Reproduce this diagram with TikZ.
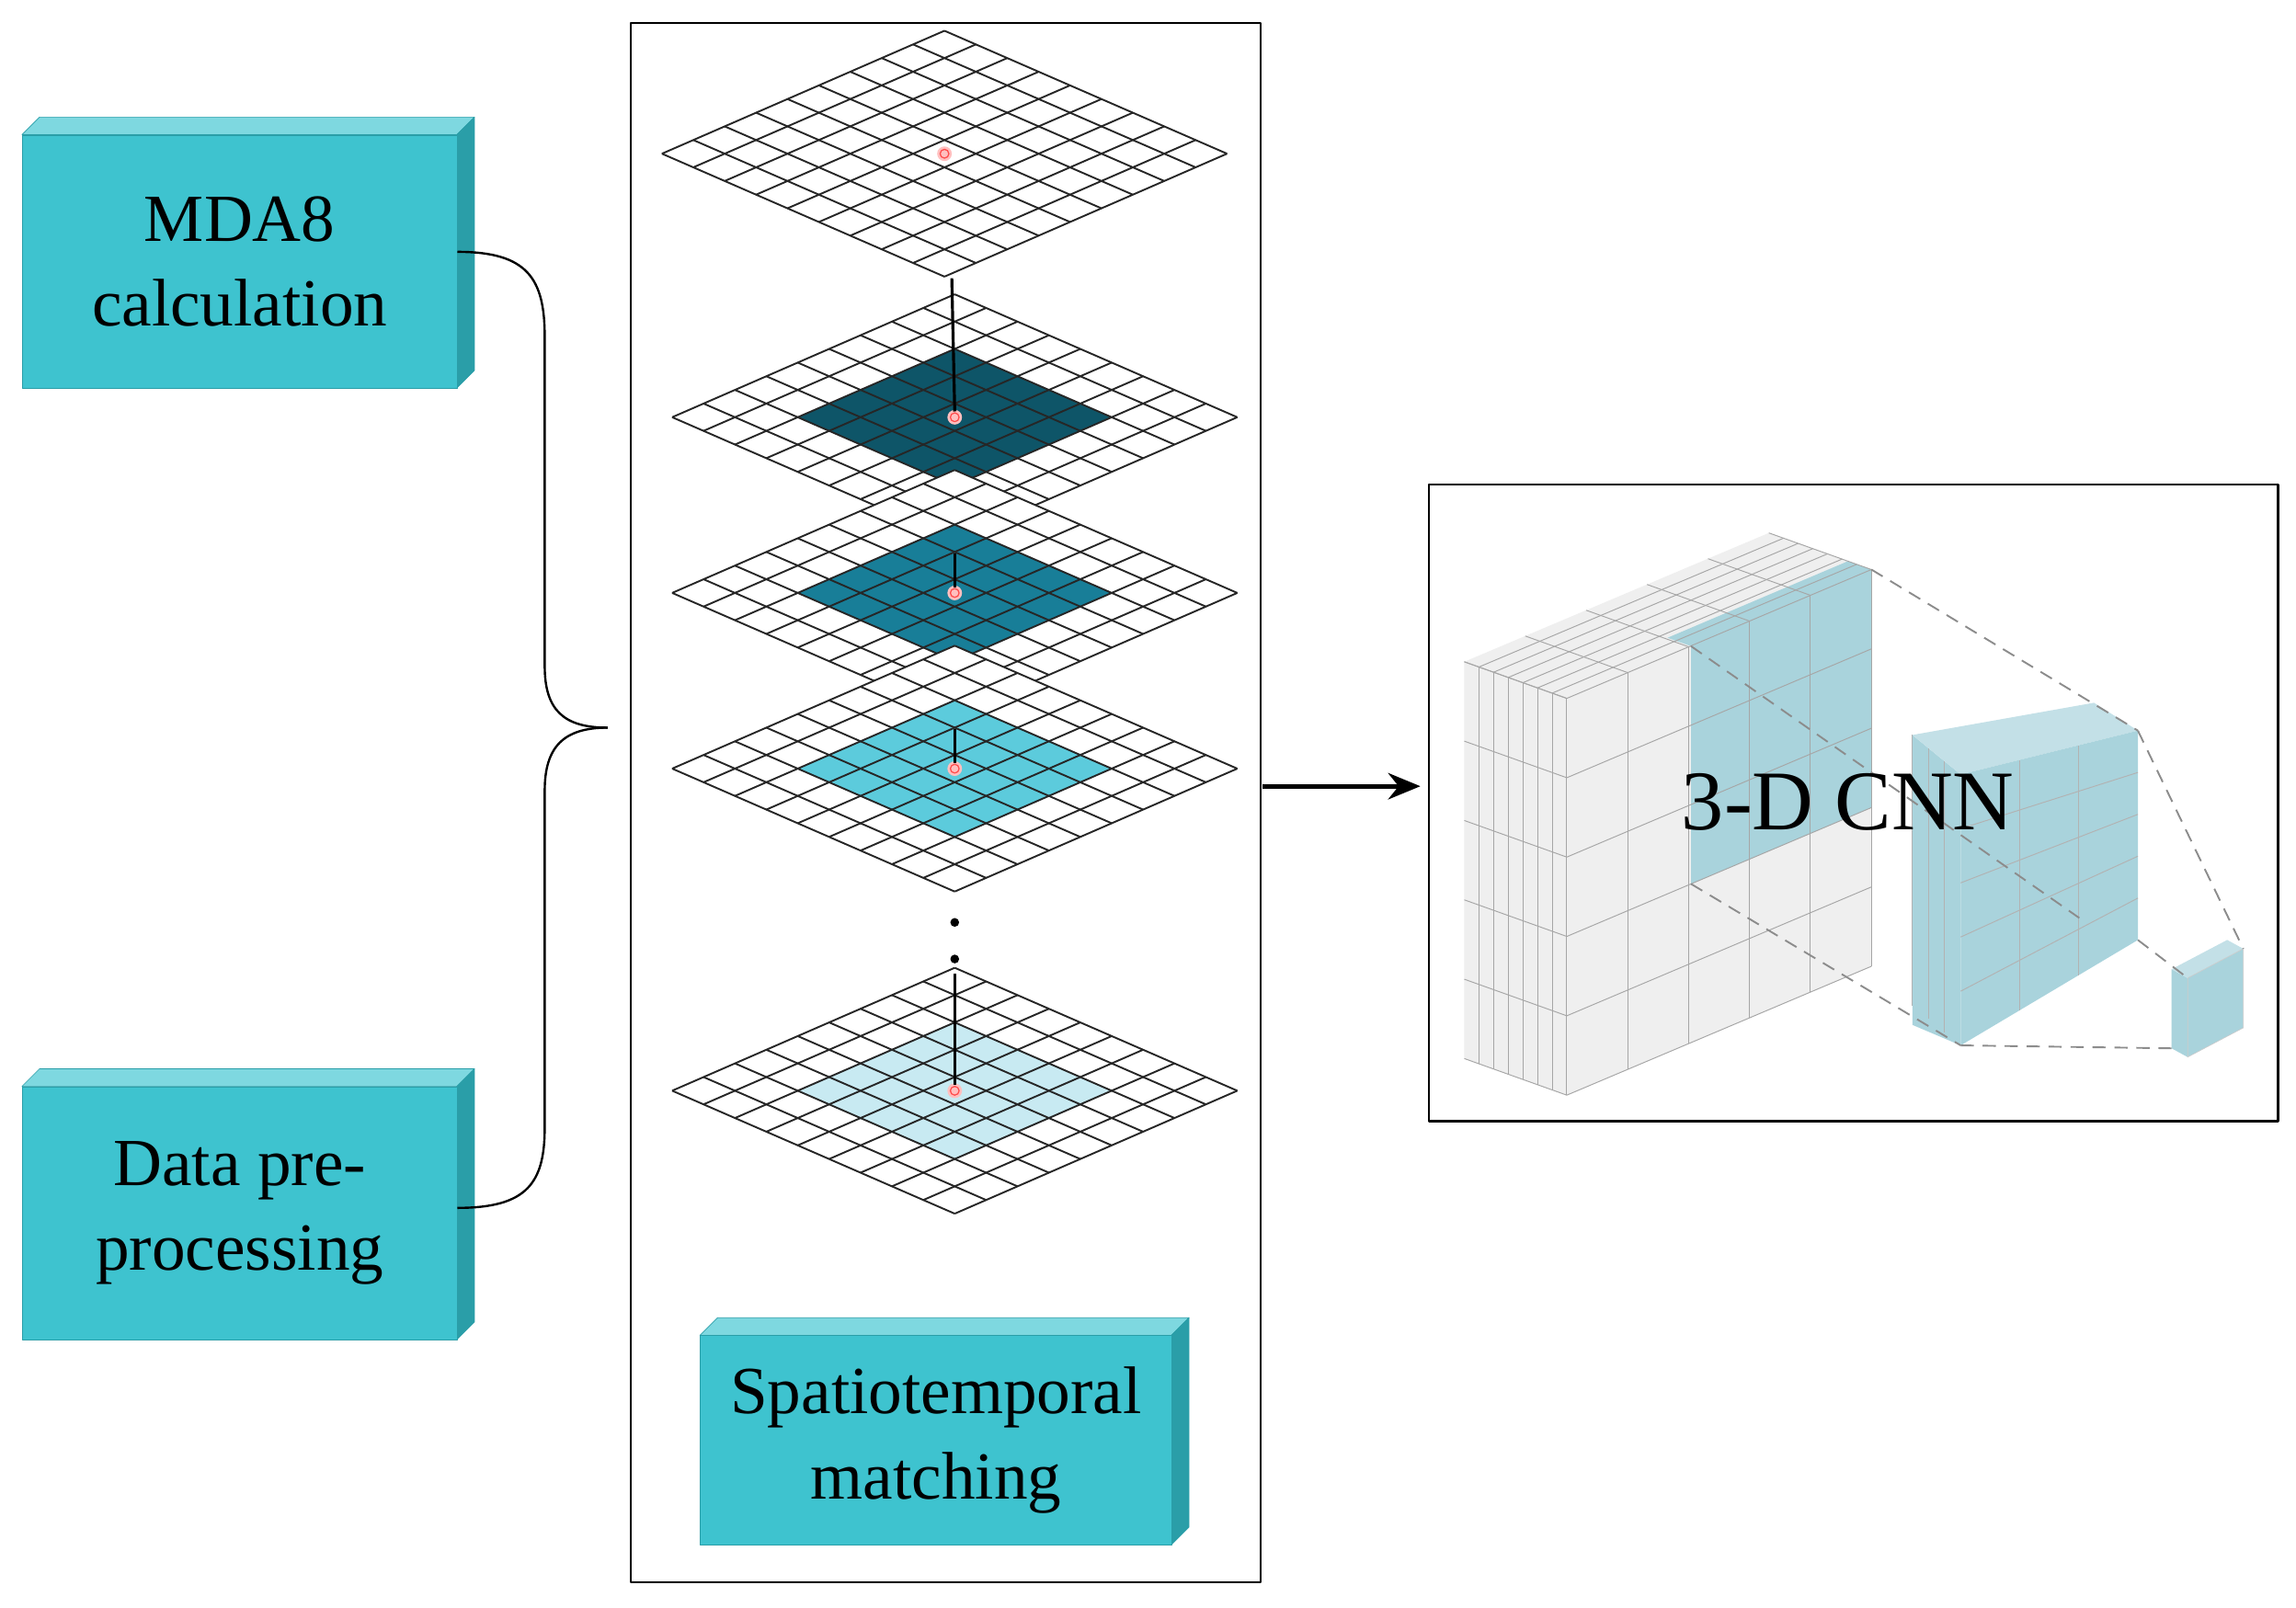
\documentclass[tikz,border=0pt]{standalone}
\usepackage{fontspec}
\setmainfont{Liberation Serif}
\usetikzlibrary{arrows.meta}
\definecolor{boxc}{HTML}{3EC3CF}
\definecolor{boxs}{HTML}{2A9EA8}
\definecolor{boxt}{HTML}{7ED8E0}
\definecolor{g2}{HTML}{0E5568}
\definecolor{g3}{HTML}{187E98}
\definecolor{g4}{HTML}{5CCBDC}
\definecolor{g5}{HTML}{C8EAF2}
\definecolor{cnnb}{HTML}{A9D3DC}
\definecolor{cnng}{HTML}{EFEFEF}
\newcommand{\gp}[4]{({#1+21.44*(#3-#4)},{#2-84+9.33*(#3+#4)})}
\newcommand{\mygrid}[3]{%
\fill[white] \gp{#1}{#2}{0}{0} -- \gp{#1}{#2}{9}{0} -- \gp{#1}{#2}{9}{9} -- \gp{#1}{#2}{0}{9} -- cycle;
\fill[#3] \gp{#1}{#2}{2}{2} -- \gp{#1}{#2}{7}{2} -- \gp{#1}{#2}{7}{7} -- \gp{#1}{#2}{2}{7} -- cycle;
\foreach \t in {0,...,9} {\draw[line width=1.2pt,black!85] \gp{#1}{#2}{\t}{0} -- \gp{#1}{#2}{\t}{9}; \draw[line width=1.2pt,black!85] \gp{#1}{#2}{0}{\t} -- \gp{#1}{#2}{9}{\t};}
\fill[red!25] (#1,#2) circle[radius=5pt];
\draw[red!70,line width=0.8pt] (#1,#2) circle[radius=3pt];}
\newcommand{\mybox}[5]{% name, x1,y1,x2,y2
\fill[boxt,draw=boxs] (#2,#3) -- (#2+12,#3-12) -- (#4+12,#3-12) -- (#4,#3) -- cycle;
\fill[boxs,draw=boxs] (#4,#3) -- (#4+12,#3-12) -- (#4+12,#5-12) -- (#4,#5) -- cycle;
\node[fill=boxc,draw=boxs,minimum width=#4-#2,minimum height=#5-#3,anchor=north west,inner sep=0pt] (#1) at (#2,#3) {};}
\tikzset{lab/.style={font=\fontsize{46}{58}\selectfont,align=center}}
\begin{document}
\begin{tikzpicture}[x=1pt,y=-1pt,line join=round]
\useasboundingbox (0,0) rectangle (1568,1098);
\fill[white] (0,0) rectangle (1568,1098);
% main frame
\node[draw,line width=1.5pt,minimum width=430,minimum height=1065,anchor=north west,inner sep=0pt] (frame) at (430,15) {};
% left boxes
\mybox{mda}{15}{92}{312}{265}
\node[lab] at (mda) {MDA8\\calculation};
\mybox{dat}{15}{742}{312}{915}
\node[lab] at (dat) {Data pre-\\processing};
\mybox{spt}{478}{912}{800}{1055}
\node[lab] at (spt) {Spatiotemporal\\matching};
% brace
\coordinate (tip) at (415,497);
\draw[line width=1.5pt] (mda.east|-0,172) .. controls (360,172) and (372,190) .. (372,230) -- (372,455) .. controls (372,485) and (385,497) .. (tip);
\draw[line width=1.5pt] (dat.east|-0,825) .. controls (360,825) and (372,808) .. (372,770) -- (372,540) .. controls (372,510) and (385,497) .. (tip);
% grids
\mygrid{645}{105}{white}
\mygrid{652}{285}{g2}
\mygrid{652}{405}{g3}
\mygrid{652}{525}{g4}
\mygrid{652}{745}{g5}
\coordinate (c1) at (650,190);
\coordinate (c2) at (652,281);
\draw[line width=2pt] (c1) -- (c2);
\draw[line width=2pt] (652,378) -- (652,401);
\draw[line width=2pt] (652,498) -- (652,521);
\draw[line width=2pt] (652,665) -- (652,741);
\fill (652,630) circle[radius=3pt];
\fill (652,655) circle[radius=3pt];
% arrow
\coordinate (a1) at (862,537);
\coordinate (a2) at (970,537);
\draw[line width=3pt,-{Stealth[length=22pt,width=18pt]}] (a1) -- (a2);
% CNN frame
\node[draw,line width=1.5pt,minimum width=580,minimum height=435,anchor=north west,inner sep=0pt] (cnn) at (975,330) {};
% big block
\begin{scope}[draw=black!35,line width=0.6pt]
\fill[cnng] (1000,452) -- (1070,477) -- (1070,748) -- (1000,723) -- cycle;
\fill[cnng] (1000,452) -- (1070,477) -- (1278,389) -- (1208,364) -- cycle;
\fill[cnng] (1070,477) -- (1278,389) -- (1278,660) -- (1070,748) -- cycle;
\fill[cnnb] (1154.8,441.3) -- (1278,389) -- (1278,551.6) -- (1154.8,603.7) -- cycle;
\fill[cnnb] (1154.8,441.3) -- (1278,389) -- (1262,383.3) -- (1138.8,435.6) -- cycle;
\foreach \i in {0,...,5} {\draw (1070+41.6*\i,477-17.6*\i) -- ++(0,271); \draw (1070+41.6*\i,477-17.6*\i) -- ++(-70,-25);}
\foreach \j in {0,...,5} {\draw (1070,477+54.2*\j) -- ++(208,-88); \draw (1070,477+54.2*\j) -- ++(-70,-25);}
\foreach \k in {1,...,6} {\draw (1070-10*\k,477-3.57*\k) -- ++(0,271); \draw (1070-10*\k,477-3.57*\k) -- ++(208,-88);}
\end{scope}
% middle block
\begin{scope}[draw=black!30,line width=0.6pt]
\fill[cnnb] (1306,502) -- (1339,529) -- (1339,714) -- (1306,700) -- cycle;
\fill[cnnb!70] (1306,502) -- (1339,529) -- (1460,499) -- (1430,480) -- cycle;
\fill[cnnb] (1339,529) -- (1460,499) -- (1460,642) -- (1339,714) -- cycle;
\foreach \i in {1,2} {\draw (1339+40.3*\i,529-10*\i) -- (1339+40.3*\i,714-24*\i);}
\foreach \j in {1,...,4} {\draw (1339,529+37*\j) -- (1460,499+28.6*\j);}
\foreach \k in {1,2,3} {\draw (1339-11*\k,529-9*\k) -- ++(0,185);}
\end{scope}
% small cube
\fill[cnnb] (1483,662) -- (1494,668) -- (1494,722) -- (1483,716) -- cycle;
\fill[cnnb!70] (1483,662) -- (1494,668) -- (1532,648) -- (1521,642) -- cycle;
\fill[cnnb,draw=black!20] (1494,668) -- (1532,648) -- (1532,702) -- (1494,722) -- cycle;
% dashed
\begin{scope}[draw=black!45,line width=1.2pt,dash pattern=on 9pt off 6pt]
\draw (1278,389) -- (1460,499);
\draw (1154.8,603.7) -- (1339,714);
\draw (1154.8,441.3) -- (1420,627);
\draw (1460,499) -- (1532,648);
\draw (1460,642) -- (1494,668);
\draw (1339,714) -- (1483,716);
\end{scope}
\node[font=\fontsize{58}{66}\selectfont] (lbl) at (1262,548) {3-D CNN};
\end{tikzpicture}
\end{document}
